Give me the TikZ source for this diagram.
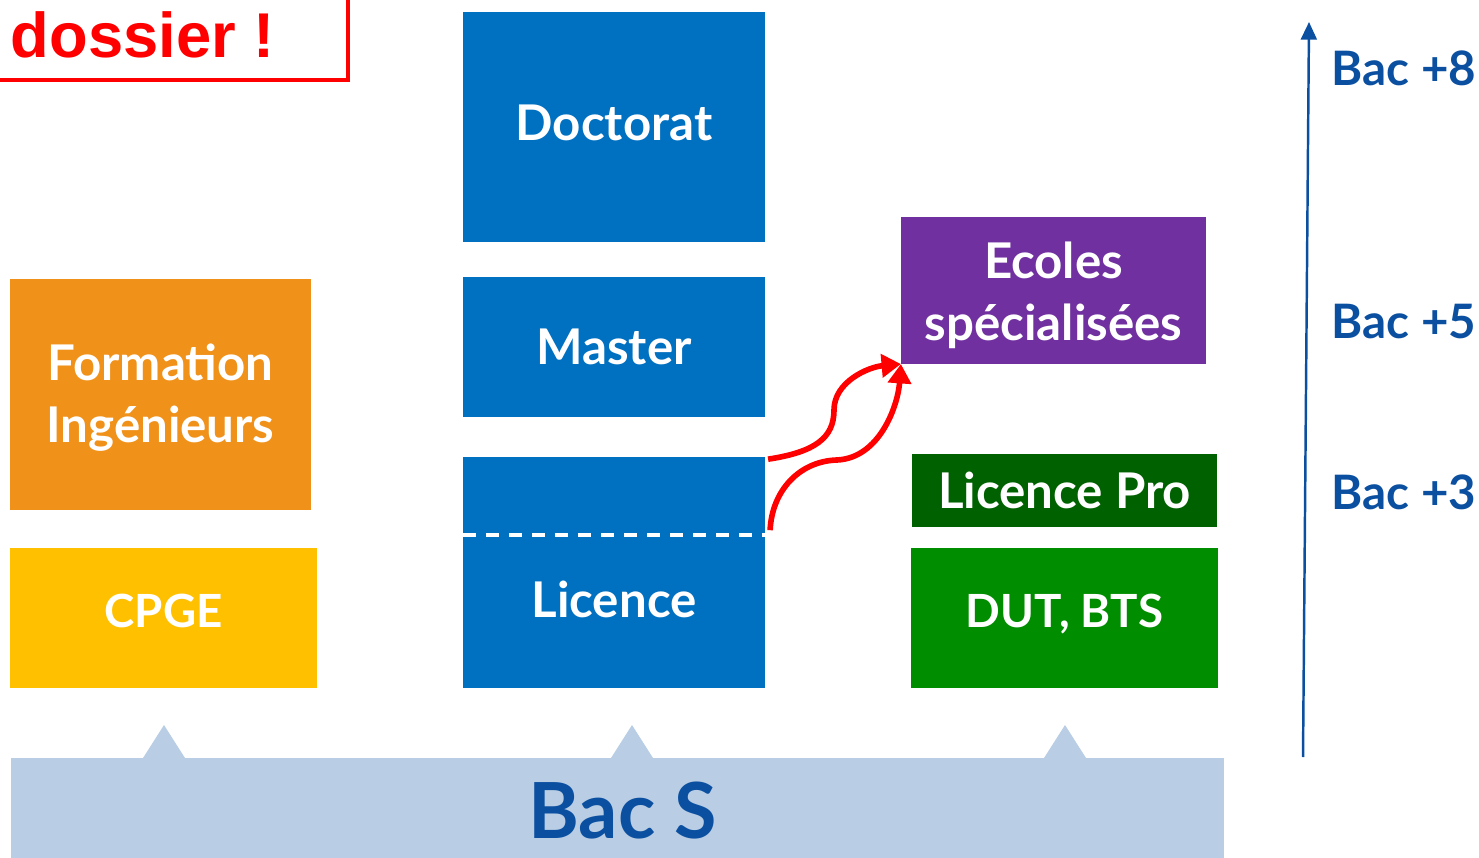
\documentclass[tikz,border=0pt]{standalone}
\usepackage{fontspec}
\setmainfont{Lato}
\newfontfamily\dossierfont{Liberation Sans}
\usepackage{xcolor}
\usetikzlibrary{arrows.meta, positioning, calc}

\definecolor{lmdblue}{HTML}{0070C0}
\definecolor{lmdorange}{HTML}{F0911A}
\definecolor{lmdyellow}{HTML}{FFC000}
\definecolor{lmdpurple}{HTML}{7030A0}
\definecolor{lmddarkgreen}{HTML}{006100}
\definecolor{lmdgreen}{HTML}{008D00}
\definecolor{bandblue}{HTML}{B9CDE4}
\definecolor{levelblue}{HTML}{0B50A0}

\tikzset{
  cursus/.style={rectangle, inner sep=0pt, outer sep=0pt, text=white, align=center,
    font=\bfseries\fontsize{14}{17.6}\selectfont},
  small/.style={font=\bfseries\fontsize{13}{16}\selectfont},
  level/.style={anchor=west, text=levelblue, inner sep=0pt,
    font=\bfseries\fontsize{13.5}{16}\selectfont},
  passerelle/.style={red, line width=1.6pt, -{Triangle[length=5.5pt,width=6.5pt]}},
}
% texte decale verticalement sans changer sa boite
\newcommand{\decale}[2]{\raisebox{#1}[\height][\depth]{#2}}
\newcommand{\deuxlignes}[3]{\decale{#1}{\begin{tabular}{@{}c@{}}#2\\#3\end{tabular}}}

\begin{document}
\begin{tikzpicture}[x=0.01cm, y=-0.01cm]
\useasboundingbox (0,0) rectangle (1479,858);

% remarque en haut a gauche
\draw[red, line width=1.3pt] (-10,80) -- (348,80) -- (348,-10);
\node[anchor=base west, inner sep=0pt, text=red,
  font=\dossierfont\bfseries\fontsize{18}{20}\selectfont] (dossier) at (10,58) {dossier !};

% filiere universitaire
\node[cursus, fill=lmdblue, minimum width=3.02cm, minimum height=2.30cm] (doctorat) at (614,127) {\decale{0.04cm}{Doctorat}};
\node[cursus, fill=lmdblue, minimum width=3.02cm, minimum height=1.40cm, below=0.35cm of doctorat] (master) {Master};
\node[cursus, fill=lmdblue, minimum width=3.02cm, minimum height=2.31cm, below=0.40cm of master] (licence) {};
\node[cursus] (licencetxt) at ($(licence.center)+(0,27)$) {Licence};
\coordinate (splitw) at ($(licence.north west)+(0,78)$);
\coordinate (splite) at ($(licence.north east)+(0,78)$);
\draw[white, line width=1.3pt, dash pattern=on 0.13cm off 0.1cm] (splitw) -- (splite);

% ecoles d'ingenieurs
\node[cursus, fill=lmdorange, minimum width=3.01cm, minimum height=2.31cm] (ingenieurs) at (160.5,394.5)
  {\deuxlignes{-0.05cm}{Formation}{Ingénieurs}};
\node[cursus, small, fill=lmdyellow, minimum width=3.07cm, minimum height=1.40cm, below=0.38cm of ingenieurs, xshift=0.03cm] (cpge)
  {\decale{0.07cm}{CPGE}};

% filieres courtes et ecoles
\node[cursus, fill=lmdpurple, minimum width=3.05cm, minimum height=1.47cm] (ecoles) at (1053.5,290.5)
  {\deuxlignes{-0.07cm}{Ecoles}{spécialisées}};
\node[cursus, fill=lmddarkgreen, minimum width=3.05cm, minimum height=0.73cm] (licpro) at (1064.5,490.5) {Licence Pro};
\node[cursus, small, fill=lmdgreen, minimum width=3.07cm, minimum height=1.40cm, below=0.21cm of licpro] (dut)
  {\decale{0.04cm}{DUT, BTS}};

% le bac
\node[fill=bandblue, inner sep=0pt, anchor=north west, minimum width=12.13cm, minimum height=1.05cm,
  text=levelblue, font=\bfseries\fontsize{22}{24}\selectfont] (bacs) at (10,757) {\hspace{0.1cm}Bac S};
\foreach \tx in {164,632,1065}
  \fill[bandblue] (\tx-21,758) -- (\tx,725) -- (\tx+21,758) -- cycle;

% passerelles
\draw[passerelle] ($(licence.north east)+(3,2)$) .. controls (815,452) and (834,438) .. (834,410)
  .. controls (834,382) and (868,367) .. (ecoles.south west);
\draw[passerelle] ($(splite)+(5,-5)$) .. controls (772,490) and (800,461) .. (837,460)
  .. controls (880,458) and (898,405) .. (ecoles.south west);

% niveaux
\coordinate (axebas) at (1303,757);
\coordinate (axehaut) at (1309,22);
\draw[levelblue, line width=0.7pt, -{Triangle[length=5pt,width=4.5pt]}] (axebas) -- (axehaut);
\node[level] (bac8) at (1331,68) {Bac +8};
\node[level] (bac5) at (1331,322) {Bac +5};
\node[level] (bac3) at (1331,492) {Bac +3};
\end{tikzpicture}
\end{document}
